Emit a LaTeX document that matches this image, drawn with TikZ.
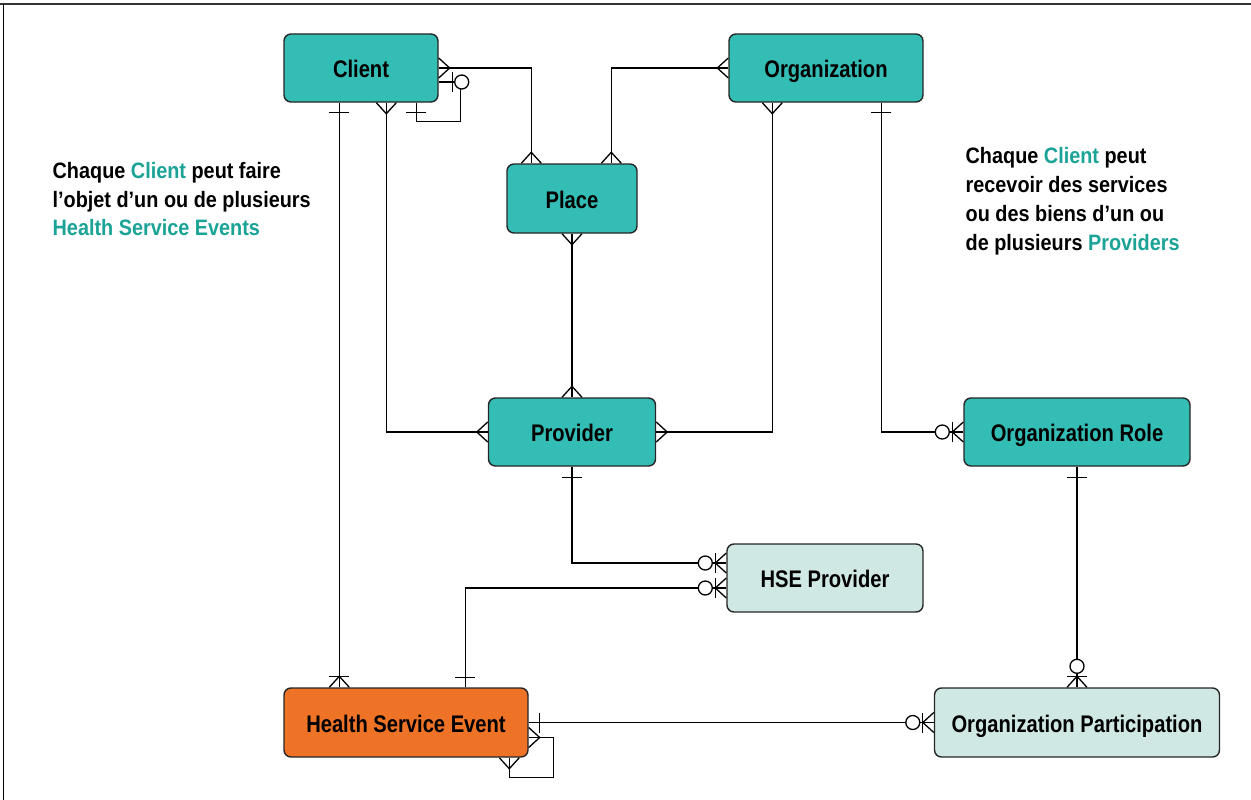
\documentclass[tikz,border=0pt]{standalone}
\usepackage{fontspec}
\setmainfont{Liberation Sans}
\newfontfamily\nodefont{Liberation Sans}[FakeStretch=0.84]
\newfontfamily\notefont{Liberation Sans}[FakeStretch=0.89]
\usetikzlibrary{calc}
\definecolor{tealfill}{HTML}{33BDB5}
\definecolor{lightfill}{HTML}{D0E8E3}
\definecolor{orangefill}{HTML}{EE7326}
\definecolor{tealtext}{HTML}{1AA396}
\begin{document}
\begin{tikzpicture}[x=1pt,y=-1pt,line width=1.3pt,
  entity/.style={draw=black!85,line width=1.4pt,rounded corners=7pt,inner sep=0pt,
    text height=23pt,text depth=4pt,
    font={\nodefont\bfseries\fontsize{24}{28}\selectfont},text=black},
  note/.style={inner sep=0pt,anchor=base west,font={\notefont\bfseries\fontsize{22.3}{27}\selectfont}},
  crowf/.pic={\draw (0,10)--(11,0)--(0,-10);},
  barten/.pic={\draw (10,-10)--(10,10);},
  bareleven/.pic={\draw (11,-10)--(11,10);},
  onemany/.pic={\draw (0,10)--(11,0)--(0,-10); \draw (11,-10)--(11,10);},
  zeromany/.pic={\draw (0,10)--(11,0)--(0,-10); \draw (11,-10)--(11,10);
     \draw[fill=white] (21,0) circle[radius=7pt];},
  zeroone/.pic={\draw (14,-10)--(14,10); \draw[fill=white] (23,0) circle[radius=7pt];}
]
\useasboundingbox (0,0) rectangle (1251,800);
\draw[line width=2pt,black!80] (0,4)--(1251,4);
\draw[line width=0.8pt] (3,4)--(3,800);

% entities
\node[entity,fill=tealfill,minimum width=154pt,minimum height=68pt] (client) at (361,68) {Client};
\node[entity,fill=tealfill,minimum width=194pt,minimum height=68pt] (org) at (826,68) {Organization};
\node[entity,fill=tealfill,minimum width=130pt,minimum height=69pt] (place) at (572,198.5) {Place};
\node[entity,fill=tealfill,minimum width=167pt,minimum height=68pt] (provider) at (572,432) {Provider};
\node[entity,fill=tealfill,minimum width=226pt,minimum height=68pt] (orgrole) at (1077,432) {Organization Role};
\node[entity,fill=lightfill,minimum width=196pt,minimum height=68pt] (hsep) at (825,578) {HSE Provider};
\node[entity,fill=orangefill,minimum width=244pt,minimum height=69pt] (hse) at (406,722.5) {Health Service Event};
\node[entity,fill=lightfill,minimum width=285pt,minimum height=69pt] (orgpart) at (1077,722.5) {Organization Participation};

% annotations
\node[note] (l1) at (52,178) {Chaque \textcolor{tealtext}{Client} peut faire};
\node[note] (l2) at (52,207) {l’objet d’un ou de plusieurs};
\node[note] (l3) at (52,235) {\textcolor{tealtext}{Health Service Events}};
\node[note] (r1) at (965,163) {Chaque \textcolor{tealtext}{Client} peut};
\node[note] (r2) at (965,192) {recevoir des services};
\node[note] (r3) at (965,221) {ou des biens d’un ou};
\node[note] (r4) at (965,250) {de plusieurs \textcolor{tealtext}{Providers}};

% attachment points
\coordinate (pl1) at ($(place.north west)+(25,0)$);
\coordinate (pl2) at ($(place.north west)+(105,0)$);
\coordinate (cl1) at ($(client.east)+(0,14)$);
\coordinate (cl2) at ($(client.south west)+(133,0)$);
\coordinate (cl3) at ($(client.south west)+(103,0)$);
\coordinate (cl4) at ($(client.south west)+(56,0)$);
\coordinate (lp1) at ($(cl1)+(22,0)$);
\coordinate (lp2) at ($(cl2)+(0,19)$);
\coordinate (hs1) at ($(hse.north west)+(56,0)$);
\coordinate (hs2) at ($(hse.north west)+(182,0)$);
\coordinate (hs3) at ($(hse.east)+(0,15)$);
\coordinate (hs4) at ($(hse.south west)+(226,0)$);
\coordinate (lp3) at ($(hs3)+(25,0)$);
\coordinate (lp4) at ($(hs4)+(0,20)$);
\coordinate (og1) at ($(org.south west)+(44,0)$);
\coordinate (og2) at ($(org.south west)+(153,0)$);
\coordinate (hp1) at ($(hsep.west)+(0,-15)$);
\coordinate (hp2) at ($(hsep.west)+(0,10)$);

% connectors
\draw (client.east) -| (pl1);
\draw (org.west) -| (pl2);
\draw (cl1) -- (lp1) |- (lp2) -- (cl2);
\draw (cl3) |- (provider.west);
\draw (cl4) -- (hs1);
\draw (place.south) -- (provider.north);
\draw (og1) |- (provider.east);
\draw (og2) |- (orgrole.west);
\draw (provider.south) |- (hp1);
\draw (hs2) |- (hp2);
\draw (orgrole.south) -- (orgrole.south |- orgpart.north);
\draw (hse.east) -- (hse.east -| orgpart.west);
\draw (hs3) -- (lp3) |- (lp4) -- (hs4);

% end markers
\pic at (client.east) {crowf};
\pic[rotate=90] at (pl1) {crowf};
\pic[rotate=180] at (org.west) {crowf};
\pic[rotate=90] at (pl2) {crowf};
\pic at (cl1) {zeroone};
\pic[rotate=270] at (cl2) {barten};
\pic[rotate=270] at (cl3) {crowf};
\pic[rotate=180] at (provider.west) {crowf};
\pic[rotate=270] at (cl4) {barten};
\pic[rotate=90] at (hs1) {onemany};
\pic[rotate=270] at (place.south) {crowf};
\pic[rotate=90] at (provider.north) {crowf};
\pic[rotate=270] at (og1) {crowf};
\pic at (provider.east) {crowf};
\pic[rotate=270] at (og2) {barten};
\pic[rotate=180] at (orgrole.west) {zeromany};
\pic[rotate=270] at (provider.south) {bareleven};
\pic[rotate=180] at (hp1) {zeromany};
\pic[rotate=90] at (hs2) {barten};
\pic[rotate=180] at (hp2) {zeromany};
\pic[rotate=270] at (orgrole.south) {bareleven};
\pic[rotate=90] at (orgpart.north) {zeromany};
\pic at (hse.east) {bareleven};
\pic[rotate=180] at (orgpart.west) {zeromany};
\pic at (hs3) {crowf};
\pic[rotate=270] at (hs4) {crowf};
\end{tikzpicture}
\end{document}
